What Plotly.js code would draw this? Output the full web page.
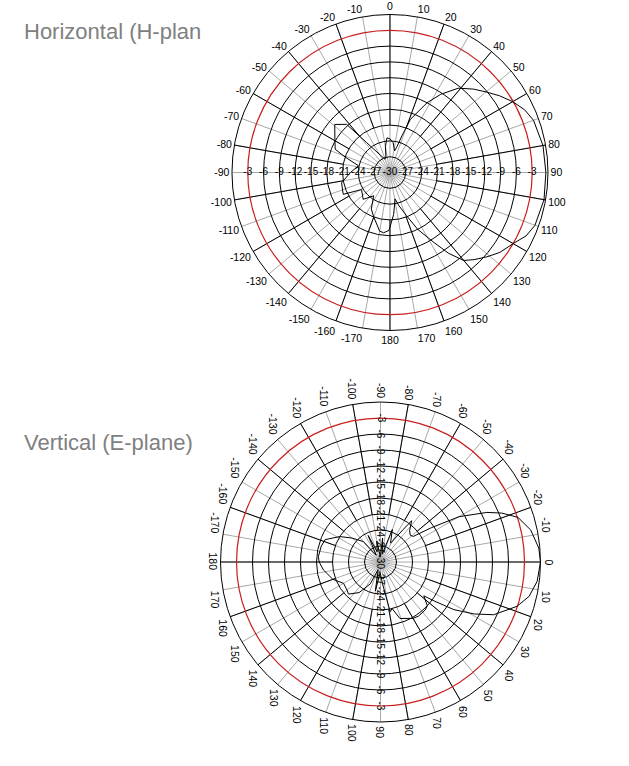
<!DOCTYPE html>
<html><head><meta charset="utf-8">
<script src="https://cdn.plot.ly/plotly-3.0.1.min.js"></script>
<style>html,body{margin:0;padding:0;background:#fff;}#chart{width:629px;height:766px;}</style>
</head><body><div id="chart"></div>
<script>
// ---- data ----
const hTheta = [0, 6, 12, 15, 18, 21, 28, 33, 39, 45, 50, 55, 60, 65, 70, 80, 90, 100, 110, 115, 120, 126, 131, 136, 140, 144, 148, 154, 159, 165, 169, 175, 181, 186, 190, 200, 207, 215, 225, 239, 245, 258, 270, 282, 289, 293, 301, 311, 318, 322, 339, 345, 350, 355, 360];
const hR = [-23.6, -24.3, -25.8, -25, -22.7, -19.2, -15, -12.3, -9.4, -7.6, -6.2, -4.6, -3.1, -1.8, -1.0, -0.5, -0.4, -0.3, -0.7, -1.5, -3.0, -4.2, -5.6, -7, -8.2, -11, -14.4, -18, -21.2, -23.5, -24.9, -22, -19, -18.5, -18.7, -21, -22.2, -24.6, -22.8, -23.7, -20.2, -20.6, -22.5, -23.9, -21, -18.7, -17.8, -16.1, -17.7, -22.8, -27.3, -27, -25, -23.4, -23.6];

const eTheta = [-180, -175, -165, -158, -148, -140, -130, -122, -115, -108, -100, -92, -85, -78, -70, -62, -55, -53, -47, -42, -38, -34, -30, -25, -22, -18, -12, -5, 0, 7, 13, 18, 25, 29, 33, 36, 38, 43, 47, 55, 60, 71, 76, 79, 85, 92, 100, 108, 115, 125, 135, 140, 150, 160, 172, 180];
const eR = [-18.5, -18.3, -18.5, -18.8, -21, -23, -25, -28.5, -24.5, -28, -26, -29, -25.5, -28.5, -23.5, -26, -22.5, -20.3, -22, -22.5, -22.2, -18.5, -13, -8, -5.5, -2.9, -1.2, -0.2, 0, -0.4, -1.4, -3.1, -6.6, -9.9, -13.6, -17.6, -19.7, -18, -17.7, -17.6, -17.8, -18.8, -21, -20.5, -26, -28, -24.5, -28.5, -25.5, -23, -21.5, -21.8, -22, -20.5, -19.2, -18.5];

const angleTickVals = [0,10,20,30,40,50,60,70,80,90,100,110,120,130,140,150,160,170,180,190,200,210,220,230,240,250,260,270,280,290,300,310,320,330,340,350];
const angleTickText = ['0','10','20','30','40','50','60','70','80','90','100','110','120','130','140','150','160','170','180','-170','-160','-150','-140','-130','-120','-110','-100','-90','-80','-70','-60','-50','-40','-30','-20','-10'];
const blackSpokeVals = [0,20,40,60,80,100,120,140,160,180,200,220,240,260,280,300,320,340];
const ringLevels = [-27,-24,-21,-18,-15,-12,-9,-6];
const redRing = [-3];
const radialLabels = [-3,-6,-9,-12,-15,-18,-21,-24,-27];
const centerLabel = -30;

// ---- layout helpers ----
const W = 629, H = 766;
const topDom = {x:[0.3688,0.8712], y:[0.5685,0.9811]};
const botDom = {x:[0.3506,0.8593], y:[0.0574,0.4752]};
const FAM = 'Liberation Sans, Arial, sans-serif';
const tickFont = {family:FAM, size:10.5, color:'#000'};
const noAxisR = {range:[-30,0], showgrid:false, showline:false, showticklabels:false, ticks:''};

function basePolar(dom, rotation, showLabels){
  return {
    domain: dom, bgcolor:'#ffffff',
    radialaxis:{range:[-30,0], tickvals:ringLevels, showticklabels:false, ticks:'', showline:false, gridcolor:'#000', gridwidth:1},
    angularaxis:{rotation:rotation, direction:'clockwise', tickvals:angleTickVals, ticktext:angleTickText, ticks:'',
      showticklabels:showLabels, showline:true, linecolor:'#000', linewidth:1, gridcolor:'#a8a8a8', gridwidth:1, tickfont:tickFont}
  };
}
function spokePolar(dom, rotation){
  return {
    domain: dom, bgcolor:'rgba(0,0,0,0)', hole:0.3,
    radialaxis:{range:[-21,0], tickvals:redRing, showticklabels:false, ticks:'', showline:false, gridcolor:'#c81e1e', gridwidth:1.2},
    angularaxis:{rotation:rotation, direction:'clockwise', tickvals:blackSpokeVals, showticklabels:false, ticks:'', showline:false, gridcolor:'#000', gridwidth:1}
  };
}
function dataPolar(dom, rotation){
  return {
    domain: dom, bgcolor:'rgba(0,0,0,0)',
    radialaxis:Object.assign({}, noAxisR),
    angularaxis:{rotation:rotation, direction:'clockwise', showgrid:false, showline:false, showticklabels:false, ticks:''}
  };
}
function holder(sp, rmin){
  return {type:'scatterpolar', subplot:sp, r:[rmin], theta:[0], mode:'markers', marker:{size:1, color:'rgba(0,0,0,0)'}, hoverinfo:'skip', showlegend:false};
}

// radial labels for the top chart (text trace through the polar scale)
const tR = [], tT = [], tTxt = [];
radialLabels.forEach(v => { tR.push(v); tT.push(270); tTxt.push(String(v)); });
tR.push(centerLabel); tT.push(0); tTxt.push(String(centerLabel));
radialLabels.forEach(v => { tR.push(v); tT.push(90); tTxt.push(String(v)); });

const traces = [
  holder('polar', -30), holder('polar2', -21), holder('polar4', -30), holder('polar5', -21),
  {type:'scatterpolar', subplot:'polar3', r:hR, theta:hTheta, mode:'lines', line:{color:'#000', width:1}, hoverinfo:'skip', showlegend:false},
  {type:'scatterpolar', subplot:'polar3', r:tR, theta:tT, text:tTxt, mode:'text', textfont:{family:FAM, size:10, color:'#000'}, cliponaxis:false, hoverinfo:'skip', showlegend:false},
  {type:'scatterpolar', subplot:'polar6', r:eR, theta:eTheta, mode:'lines', line:{color:'#000', width:1}, hoverinfo:'skip', showlegend:false}
];

// bottom chart: rotated text labels (the picture is turned by 90 degrees)
const bcx = (botDom.x[0]+botDom.x[1])/2, bcy = (botDom.y[0]+botDom.y[1])/2, bR = (botDom.y[1]-botDom.y[0])/2;
const annotations = [
  {text:'Horizontal (H-plan', xref:'paper', yref:'paper', x:22/W, y:1-31/H, xanchor:'left', yanchor:'middle', showarrow:false, font:{family:FAM, size:22, color:'#808080'}},
  {text:'Vertical (E-plane)', xref:'paper', yref:'paper', x:22/W, y:1-442/H, xanchor:'left', yanchor:'middle', showarrow:false, font:{family:FAM, size:22, color:'#808080'}}
];
const labFont = {family:FAM, size:10, color:'#000'};
radialLabels.concat([centerLabel]).forEach(v => {
  const off = (v+30)/30*bR;
  const signs = v===centerLabel ? [0] : [1,-1];
  signs.forEach(s => annotations.push({text:String(v), xref:'paper', yref:'paper', x:bcx, y:bcy + s*off, xanchor:'center', yanchor:'middle', textangle:90, showarrow:false, font:labFont}));
});
// angular labels of bottom chart: rotated 90 deg, anchored at one end like a turned-over plot
const cxPx = bcx*W, cyPx = (1-bcy)*H, rPx = bR*H;
angleTickVals.forEach((a, i) => {
  const txt = angleTickText[i];
  let len = 0; for (const ch of txt) len += (ch === '-' ? 0.333 : 0.556) * tickFont.size;
  const hgt = 8;
  const phi = a*Math.PI/180;               // clockwise from east (screen y down)
  const c = Math.cos(phi), s = Math.sin(phi);
  const d = rPx + 4 + (hgt/2)*Math.abs(c);
  const shift = Math.abs(s) < 0.1 ? 0 : Math.sign(s)*len/2;
  const xPx = cxPx + d*c, yPx = cyPx + d*s + shift;
  annotations.push({text:txt, xref:'paper', yref:'paper', x:xPx/W, y:1-yPx/H, xanchor:'center', yanchor:'middle', textangle:90, showarrow:false, font:tickFont});
});

const layout = {
  width:W, height:H, margin:{l:0,r:0,t:0,b:0}, paper_bgcolor:'#fff', showlegend:false,
  polar: basePolar(topDom, 90, true),
  polar2: spokePolar(topDom, 90),
  polar3: dataPolar(topDom, 90),
  polar4: basePolar(botDom, 0, false),
  polar5: spokePolar(botDom, 0),
  polar6: dataPolar(botDom, 0),
  annotations: annotations
};
Plotly.newPlot('chart', traces, layout, {displayModeBar:false, staticPlot:true});
</script></body></html>
